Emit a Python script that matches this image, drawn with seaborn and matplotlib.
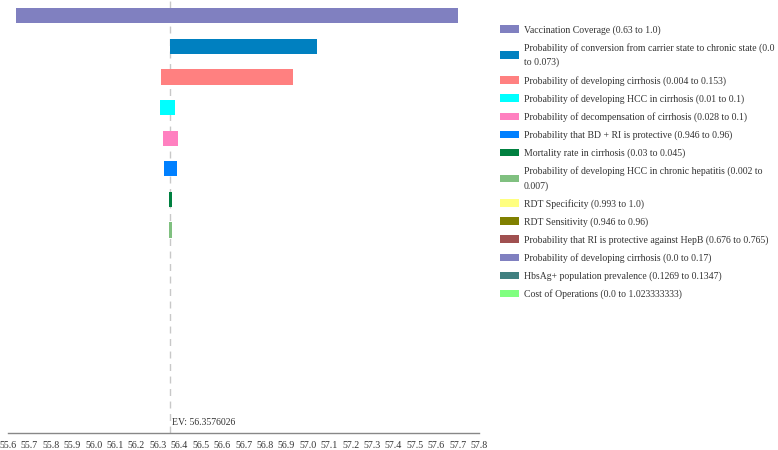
import matplotlib
matplotlib.use("Agg")
import matplotlib.pyplot as plt
from matplotlib.patches import Patch
import seaborn as sns
import pandas as pd
import numpy as np

# tornado data
labels = [
    "Vaccination Coverage (0.63 to 1.0)",
    "Probability of conversion from carrier state to chronic state (0.0\nto 0.073)",
    "Probability of developing cirrhosis (0.004 to 0.153)",
    "Probability of developing HCC in cirrhosis (0.01 to 0.1)",
    "Probability of decompensation of cirrhosis (0.028 to 0.1)",
    "Probability that BD + RI is protective (0.946 to 0.96)",
    "Mortality rate in cirrhosis (0.03 to 0.045)",
    "Probability of developing HCC in chronic hepatitis (0.002 to\n0.007)",
    "RDT Specificity (0.993 to 1.0)",
    "RDT Sensitivity (0.946 to 0.96)",
    "Probability that RI is protective against HepB (0.676 to 0.765)",
    "Probability of developing cirrhosis (0.0 to 0.17)",
    "HbsAg+ population prevalence (0.1269 to 0.1347)",
    "Cost of Operations (0.0 to 1.023333333)",
]
ev = 56.3576026
low = [55.637, 56.358, 56.316, 56.308, 56.322, 56.327, 56.350, 56.350,
       ev, ev, ev, ev, ev, ev]
high = [57.70, 57.042, 56.933, 56.381, 56.392, 56.389, 56.366, 56.367,
        ev, ev, ev, ev, ev, ev]
colors = ["#8080C0", "#0080C0", "#FF8080", "#00FFFF", "#FF80C0", "#0080FF",
          "#008040", "#80C080", "#FFFF80", "#808000", "#A05050", "#8080C0",
          "#408080", "#80FF80"]
ticks = np.round(np.arange(55.6, 57.81, 0.1), 1)

df = pd.DataFrame({"param": [str(i) for i in range(len(labels))],
                   "low": low, "high": high})
df["span"] = df["high"] - df["low"]

sns.set_style("white")
plt.rcParams["font.family"] = ["Liberation Serif", "DejaVu Serif"]

fig = plt.figure(figsize=(7.78, 4.5), dpi=100)
ax = fig.add_axes([8 / 778, 17 / 450, 770 / 778, 433 / 450])
ax.patch.set_alpha(0)

sns.barplot(data=df, x="span", y="param", orient="h", errorbar=None,
            width=0.5, ax=ax, linewidth=0, color=colors[0], saturation=1)
# move each bar so it starts at its low value
for bar, c, lo in zip(ax.patches, colors, df["low"]):
    bar.set_x(lo)
    bar.set_facecolor(c)

# EV reference line
ax.axvline(ev, color="#c8c8c8", lw=1, ls=(0, (5, 4)), zorder=0)
ax.text(ev + 0.008, 13.3, f"EV: {ev}", fontsize=7.0, color="#333333",
        va="center", ha="left")

ax.set_xlim(55.6, 55.6 + 770 / 214.1)
ax.set_ylim(13.63, -0.516)
ax.set_xticks(ticks)
ax.set_xticklabels([f"{t:.1f}" for t in ticks], fontsize=7.2, color="#333333")
ax.tick_params(axis="x", direction="inout", length=7, width=0.8,
               color="#888888", pad=2)
ax.set_yticks([])
ax.set_xlabel("")
ax.set_ylabel("")
for s in ["top", "right", "left"]:
    ax.spines[s].set_visible(False)
ax.spines["bottom"].set_bounds(55.6, 57.8)
ax.spines["bottom"].set_color("#888888")
ax.spines["bottom"].set_linewidth(1)

handles = [Patch(facecolor=c, edgecolor="none") for c in colors]
leg = fig.legend(handles, labels, loc="upper left",
                 bbox_to_anchor=(500 / 778, 1 - 25 / 450),
                 frameon=False, fontsize=7.05, handlelength=1.95,
                 handleheight=0.82, handletextpad=0.5, labelspacing=0.85,
                 borderaxespad=0, borderpad=0)
for t in leg.get_texts():
    t.set_linespacing(1.65)
    t.set_color("#333333")

fig.savefig("out.png", dpi=100)
